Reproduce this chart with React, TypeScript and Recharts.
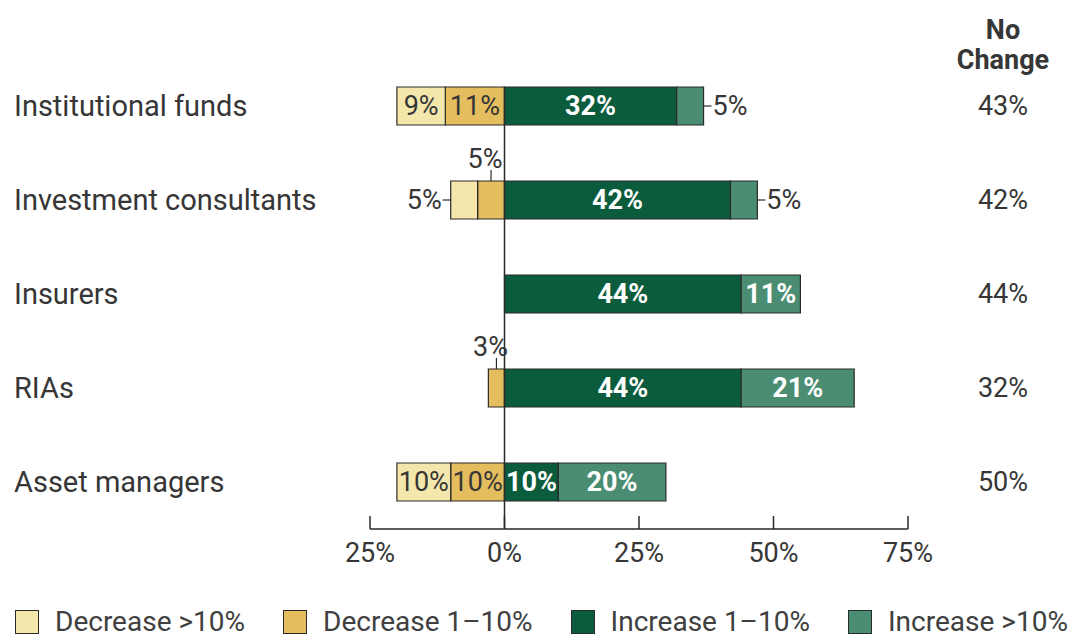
import { BarChart, Bar, XAxis, YAxis, ReferenceLine, LabelList } from 'recharts';

const categories = ['Institutional funds', 'Investment consultants', 'Insurers', 'RIAs', 'Asset managers'];
// decreases are stored as positive shares and drawn to the left of zero
const decreaseOver10 = [9, 5, 0, 0, 10];
const decrease1to10 = [11, 5, 0, 3, 10];
const increase1to10 = [32, 42, 44, 44, 10];
const increaseOver10 = [5, 5, 11, 21, 20];
const noChange = [43, 42, 44, 32, 50];
const xTicks = [-25, 0, 25, 50, 75];

const data = categories.map((name, i) => ({
  name,
  dec1: -decrease1to10[i],
  dec10: -decreaseOver10[i],
  inc1: increase1to10[i],
  inc10: increaseOver10[i],
  noChange: `${noChange[i]}%`,
}));

const FONT = 'Roboto, "Liberation Sans", Arial, sans-serif';
const TEXT = '#363636';
const EDGE = '#2a2a2a';

const SERIES = [
  { key: 'dec10', label: 'Decrease >10%', color: '#f4e7ab' },
  { key: 'dec1', label: 'Decrease 1–10%', color: '#e4bd5e' },
  { key: 'inc1', label: 'Increase 1–10%', color: '#0b5b3d' },
  { key: 'inc10', label: 'Increase >10%', color: '#4b8d73' },
];
// stacking order: nearest to zero first
const STACK_ORDER = ['dec1', 'dec10', 'inc1', 'inc10'];

const makeLabel = (kind: string) => (props: any) => {
  const vb = props.viewBox ?? props;
  const { x, y, width, height } = vb;
  const v = Math.abs(Number(props.value));
  if (!v) return null;
  const left = Math.min(x, x + width);
  const right = Math.max(x, x + width);
  const top = Math.min(y, y + height);
  const cy = top + Math.abs(height) / 2;
  const cx = (left + right) / 2;
  const text = `${v}%`;
  const common = { fontFamily: FONT, fontSize: 27, fill: TEXT };

  if (v <= 5) {
    if (kind === 'dec10') {
      return (
        <g>
          <line x1={left - 8} x2={left} y1={cy} y2={cy} stroke={EDGE} strokeWidth={1.2} />
          <text x={left - 9} y={cy} textAnchor="end" dominantBaseline="central" {...common}>{text}</text>
        </g>
      );
    }
    if (kind === 'dec1') {
      return (
        <g>
          <line x1={cx} x2={cx} y1={top} y2={top - 11} stroke={EDGE} strokeWidth={1.2} />
          <text x={cx - 6} y={top - 22} textAnchor="middle" dominantBaseline="central" {...common}>{text}</text>
        </g>
      );
    }
    return (
      <g>
        <line x1={right} x2={right + 8} y1={cy} y2={cy} stroke={EDGE} strokeWidth={1.2} />
        <text x={right + 9} y={cy} textAnchor="start" dominantBaseline="central" {...common}>{text}</text>
      </g>
    );
  }
  const onGreen = kind === 'inc1' || kind === 'inc10';
  return (
    <text
      x={cx}
      y={cy}
      textAnchor="middle"
      dominantBaseline="central"
      {...common}
      fill={onGreen ? '#ffffff' : TEXT}
      fontWeight={onGreen ? 700 : 400}
    >
      {text}
    </text>
  );
};

const CategoryTick = (props: any) => (
  <text x={14} y={props.y} dominantBaseline="central" fontFamily={FONT} fontSize={29} fill={TEXT}>
    {props.payload.value}
  </text>
);

const NoChangeTick = (props: any) => (
  <text x={props.x + 95} y={props.y} textAnchor="middle" dominantBaseline="central" fontFamily={FONT} fontSize={27} fill={TEXT}>
    {props.payload.value}
  </text>
);

const PercentTick = (props: any) => {
  const { x, y, payload } = props;
  return (
    <g>
      <line x1={x} x2={x} y1={y} y2={y - 13} stroke={EDGE} strokeWidth={1.5} />
      <text x={x} y={y + 24} textAnchor="middle" dominantBaseline="central" fontFamily={FONT} fontSize={27} fill={TEXT}>
        {`${Math.abs(payload.value)}%`}
      </text>
    </g>
  );
};

const NoChangeHeader = (props: any) => {
  const vb = props.viewBox || { x: 908 };
  const cx = vb.x + 95;
  return (
    <text textAnchor="middle" fontFamily={FONT} fontSize={27} fontWeight={700} fill={TEXT}>
      <tspan x={cx} y={39}>No</tspan>
      <tspan x={cx} y={69}>Change</tspan>
    </text>
  );
};

export default function App() {
  const colorOf = (k: string) => SERIES.find((s) => s.key === k)!.color;
  return (
    <div style={{ position: 'absolute', left: 0, top: 0, width: 1068, height: 638, background: '#fff' }}>
      <BarChart
        width={1068}
        height={638}
        data={data}
        layout="vertical"
        stackOffset="sign"
        margin={{ top: 87, right: 0, bottom: 59, left: 0 }}
      >
        <XAxis
          type="number"
          domain={[-25, 75]}
          ticks={xTicks}
          height={50}
          tickSize={0}
          tickMargin={0}
          tickLine={false}
          axisLine={{ stroke: EDGE, strokeWidth: 1.5 }}
          tick={<PercentTick />}
          interval={0}
        />
        <YAxis
          yAxisId="left"
          type="category"
          dataKey="name"
          width={370}
          axisLine={false}
          tickLine={false}
          tickSize={0}
          tick={<CategoryTick />}
          padding={{ top: -28, bottom: 0 }}
        />
        <YAxis
          yAxisId="right"
          orientation="right"
          type="category"
          dataKey="noChange"
          width={160}
          axisLine={false}
          tickLine={false}
          tickSize={0}
          tickMargin={0}
          tick={<NoChangeTick />}
          padding={{ top: -28, bottom: 0 }}
          label={<NoChangeHeader />}
        />
        <ReferenceLine yAxisId="left" x={0} stroke={EDGE} strokeWidth={1.5} />
        {STACK_ORDER.map((k) => (
          <Bar
            key={k}
            yAxisId="left"
            dataKey={k}
            stackId="s"
            barSize={38}
            fill={colorOf(k)}
            stroke={EDGE}
            strokeWidth={1.2}
            isAnimationActive={false}
          >
            <LabelList dataKey={k} content={makeLabel(k)} />
          </Bar>
        ))}
      </BarChart>
      <div
        style={{
          position: 'absolute',
          left: 15,
          top: 609,
          width: 1053,
          display: 'flex',
          gap: 38,
          fontFamily: FONT,
          fontSize: 28,
          color: '#404040',
          lineHeight: '26px',
          whiteSpace: 'nowrap',
        }}
      >
        {SERIES.map((s) => (
          <div key={s.key} style={{ display: 'flex', alignItems: 'center', gap: 16, flexShrink: 0 }}>
            <span style={{ width: 22, height: 22, background: s.color, border: `1.5px solid ${EDGE}`, display: 'inline-block', flexShrink: 0 }} />
            <span>{s.label}</span>
          </div>
        ))}
      </div>
    </div>
  );
}
